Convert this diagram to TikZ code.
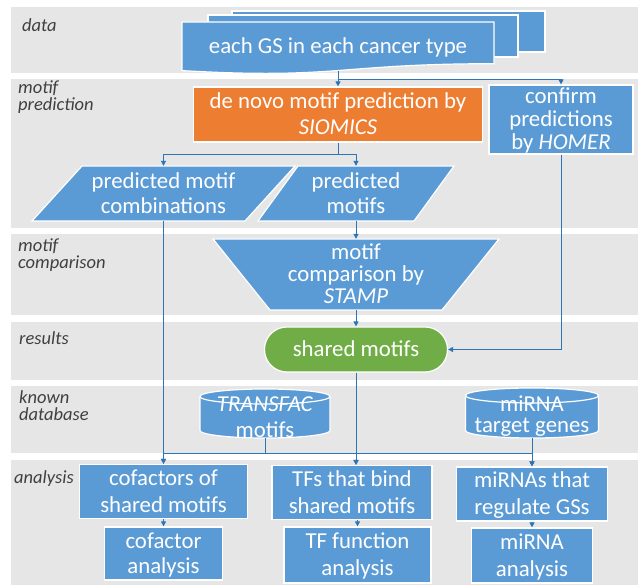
\documentclass[tikz,border=0pt]{standalone}
\usepackage{fontspec}
\setmainfont{Carlito}
\usetikzlibrary{arrows.meta,calc}

\definecolor{bandgray}{HTML}{E7E6E6}
\definecolor{boxblue}{HTML}{5B9BD5}
\definecolor{boxorange}{HTML}{ED7D31}
\definecolor{boxgreen}{HTML}{70AD47}
\definecolor{linkblue}{HTML}{2E75B6}
\definecolor{labelgray}{HTML}{404040}

% strut that puts the node centre on the visual middle of the text
\newcommand\ms{\rule[\dimexpr0.32em-0.5\baselineskip\relax]{0pt}{\baselineskip}}

\tikzset{
  shapebox/.style={fill=boxblue, draw=white, line width=1.2pt},
  txt/.style={text=white, align=center, inner sep=0pt,
              font=\fontsize{22.8}{26}\selectfont},
  box/.style={shapebox, txt, rectangle},
  ghost/.style={txt, rectangle, draw=none, fill=none},
  lane/.style={text=labelgray, align=left, anchor=west, inner sep=0pt,
               font=\fontsize{18.5}{17}\selectfont\itshape},
  link/.style={draw=linkblue, line width=0.9pt},
  arr/.style={link, -{Triangle[length=5pt,width=5pt]}},
}

\begin{document}
\begin{tikzpicture}[x=1pt,y=-1pt]
\useasboundingbox (0,0) rectangle (638,585);
\fill[white] (0,0) rectangle (638,585);

% swim lanes
\fill[bandgray] (11,7.5) rectangle (638,73);
\fill[bandgray] (11,79) rectangle (638,228);
\fill[bandgray] (11,234) rectangle (638,315);
\fill[bandgray] (11,322) rectangle (638,380);
\fill[bandgray] (11,386) rectangle (638,453);
\fill[bandgray] (11,460) rectangle (638,585);

% lane titles
\node[lane] (l-data) at (22,25.9) {\ms data};
\node[lane] (l-pred) at (18,96.4) {\ms motif\\\ms prediction};
\node[lane] (l-comp) at (18,253.9) {\ms motif\\\ms comparison};
\node[lane] (l-res) at (19,338.9) {\ms results};
\node[lane] (l-db) at (19,406.4) {\ms known\\\ms database};
\node[lane] (l-an) at (14,477.9) {\ms analysis};

% stacked documents
\filldraw[shapebox] (232,11) rectangle (545,52);
\filldraw[shapebox] (208,15) rectangle (518,57);
\filldraw[shapebox] (182,22) -- (494,22) -- (494,63.7)
  .. controls (338,63.7) and (338,79.6) .. (182,70.6) -- cycle;
\node[ghost, minimum width=312pt, minimum height=48.5pt] (gs) at (338,46.25)
  {\ms each GS in each cancer type};

% motif prediction
\node[box, fill=boxorange, minimum width=289pt, minimum height=55pt] (siomics)
  at (338,114.5) {\ms de novo motif prediction by\\\ms\textit{SIOMICS}};
\node[box, font=\fontsize{22.8}{23}\selectfont, minimum width=144pt,
  minimum height=65pt] (confirm) at (561,119.5)
  {\ms confirm\\\ms predictions\\\ms by \textit{HOMER}};

\filldraw[shapebox] (32,221) -- (82,166) -- (295,166) -- (245,221) -- cycle;
\node[ghost, font=\fontsize{22.8}{25}\selectfont, minimum width=213pt,
  minimum height=55pt] (pmc) at (163.5,193.5)
  {\ms predicted motif\\\ms combinations};
\filldraw[shapebox] (258,221) -- (298,166) -- (454,166) -- (414,221) -- cycle;
\node[ghost, font=\fontsize{22.8}{25}\selectfont, minimum width=156pt,
  minimum height=55pt] (pm) at (356,193.5) {\ms predicted\\\ms motifs};

% motif comparison
\filldraw[shapebox] (213,239) -- (499,239) -- (442,310) -- (270,310) -- cycle;
\node[ghost, font=\fontsize{22.8}{22}\selectfont, minimum width=200pt,
  minimum height=71pt] (stamp) at (356,274.5)
  {\ms motif\\\ms comparison by\\\ms\textit{STAMP}};

% results
\node[box, fill=boxgreen, rounded corners=22.4pt, minimum width=183pt,
  minimum height=45pt] (shared) at (356,349.5) {\ms shared motifs};

% known databases
\filldraw[shapebox] (200,396.5) -- (200,430.5)
  arc[start angle=180, end angle=360, x radius=65pt, y radius=7.5pt]
  -- (330,396.5)
  arc[start angle=0, end angle=180, x radius=65pt, y radius=7.5pt] -- cycle;
\draw[white, line width=1.2pt] (330,396.5)
  arc[start angle=0, end angle=-180, x radius=65pt, y radius=7.5pt];
\node[ghost, minimum width=130pt, minimum height=49pt] (tfdb) at (265,413.5) {};
\node[txt] (tftxt) at (265,417.7) {\ms\textit{TRANSFAC}\\\ms motifs};

\filldraw[shapebox] (465.5,395.5) -- (465.5,430.5)
  arc[start angle=180, end angle=360, x radius=66.5pt, y radius=7.5pt]
  -- (598.5,395.5)
  arc[start angle=0, end angle=180, x radius=66.5pt, y radius=7.5pt] -- cycle;
\draw[white, line width=1.2pt] (598.5,395.5)
  arc[start angle=0, end angle=-180, x radius=66.5pt, y radius=7.5pt];
\node[ghost, minimum width=133pt, minimum height=50pt] (mirdb) at (532,413) {};
\node[txt, font=\fontsize{22.8}{21}\selectfont] (mirtxt) at (532,415.2)
  {\ms miRNA\\\ms target genes};

% analysis
\node[box, font=\fontsize{22.8}{27}\selectfont, minimum width=168pt,
  minimum height=49pt] (cof) at (163.5,491.5) {\ms cofactors of\\\ms shared motifs};
\node[box, font=\fontsize{22.8}{25}\selectfont, minimum width=118pt,
  minimum height=53pt] (cofan) at (163.5,553.5) {\ms cofactor\\\ms analysis};
\node[box, font=\fontsize{22.8}{27}\selectfont, minimum width=160pt,
  minimum height=53pt] (tfs) at (352,492.5) {\ms TFs that bind\\\ms shared motifs};
\node[box, font=\fontsize{22.8}{27}\selectfont, minimum width=147pt,
  minimum height=56pt] (tffun) at (357.5,555) {\ms TF function\\\ms analysis};
\node[box, font=\fontsize{22.8}{27}\selectfont, minimum width=151pt,
  minimum height=54pt] (mirs) at (532,494) {\ms miRNAs that\\\ms regulate GSs};
\node[box, font=\fontsize{22.8}{27}\selectfont, minimum width=121pt,
  minimum height=55pt] (miran) at (532,555.5) {\ms miRNA\\\ms analysis};

% connectors
\coordinate (bus) at (0,453);
\draw[arr] (gs.south) -- (siomics.north);
\draw[arr] (gs.south) -- ++(0,8.5) -| (confirm.north);
\draw[arr] (siomics.south) -- ++(0,12) -| (pmc.north);
\draw[arr] (siomics.south) -- ++(0,12) -| (pm.north);
\draw[arr] (pm.south) -- (stamp.north);
\draw[arr] (stamp.south) -- (shared.north);
\draw[arr] (confirm.south) |- (shared.east);
\draw[arr] (pmc.south) -- (cof.north);
\draw[arr] (tfdb.south) |- (bus -| cof.north) -- (cof.north);
\draw[arr] (tfdb.south) |- (bus -| shared.south) -- (shared.south |- tfs.north);
\draw[arr] (shared.south) -- (shared.south |- tfs.north);
\draw[arr] (shared.south) |- (bus -| mirs.north) -- (mirs.north);
\draw[arr] (mirdb.south) -- (mirs.north);
\draw[arr] (cof.south) -- (cofan.north);
\draw[arr] (tfs.south -| tffun.north) -- (tffun.north);
\draw[arr] (mirs.south) -- (miran.north);
\end{tikzpicture}
\end{document}
